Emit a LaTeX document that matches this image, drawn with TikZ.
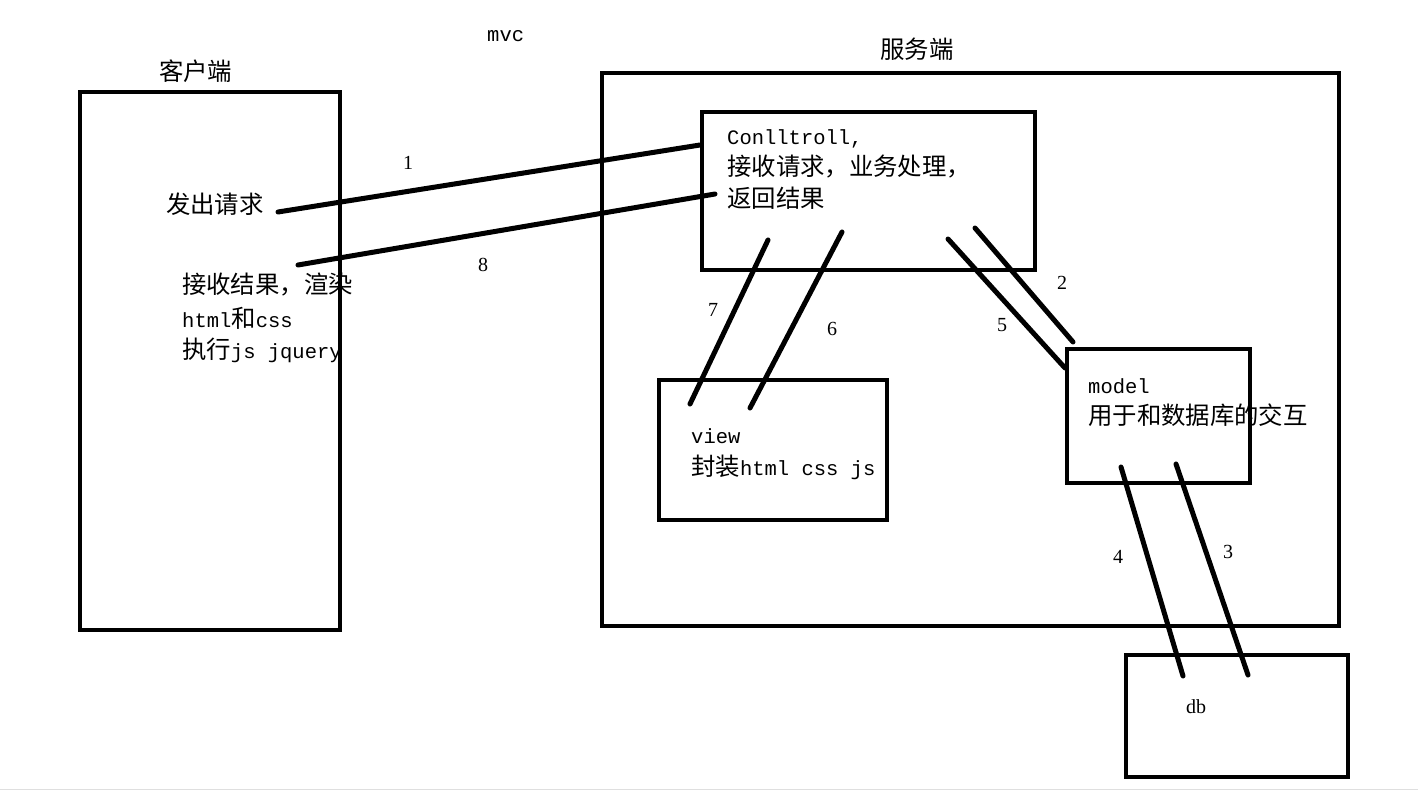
\documentclass[tikz,border=0pt]{standalone}
\usepackage{fontspec}
\setmainfont{Liberation Mono}
\newfontfamily\cjk[Scale=1.19]{Noto Sans CJK SC}
\newfontfamily\numfont{Liberation Serif}
\tikzset{
  box/.style={draw, line width=4.5pt, inner sep=0},
  conn/.style={line width=5pt, line cap=round},
  txt/.style={anchor=base west, inner sep=0, font=\fontsize{20.5}{24}\selectfont},
  num/.style={anchor=base, inner sep=0, font=\numfont\fontsize{20}{24}\selectfont},
}
\begin{document}
\begin{tikzpicture}[x=1pt,y=-1pt]
\useasboundingbox (0,0) rectangle (1418,791);
\draw[gray!25, line width=1pt] (0,789) -- (1418,789);
% boxes
\draw[box] (80,92) rectangle (340,630);
\draw[box] (602,73) rectangle (1339,626);
\draw[box] (702,112) rectangle (1035,270);
\draw[box] (659,380) rectangle (887,520);
\draw[box] (1067,349) rectangle (1250,483);
\draw[box] (1126,655) rectangle (1348,777);
% titles
\node[txt] (mvc) at (487,42) {mvc};
\node[txt] (client) at (159,81) {\cjk 客户端};
\node[txt] (server) at (880,59) {\cjk 服务端};
% client texts
\node[txt] (send) at (166,214) {\cjk 发出请求};
\node[txt] (recv1) at (182,294) {\cjk 接收结果，渲染};
\node[txt] (recv2) at (182,327) {html{\cjk 和}css};
\node[txt] (recv3) at (182,358) {{\cjk 执行}js jquery};
% controller
\node[txt] (c1) at (727,145) {Conlltroll,};
\node[txt] (c2) at (727,176) {\cjk 接收请求，业务处理，};
\node[txt] (c3) at (727,208) {\cjk 返回结果};
% view
\node[txt] (v1) at (691,443) {view};
\node[txt] (v2) at (691,475) {{\cjk 封装}html css js};
% model
\node[txt] (m1) at (1088,393) {model};
\node[txt] (m2) at (1088,424) {\cjk 用于和数据库的交互};
% db
\node[num] (db) at (1196,713) {db};
% connector end points
\coordinate (p1a) at (278,212); \coordinate (p1b) at (700,145);
\coordinate (p8a) at (298,265); \coordinate (p8b) at (715,194);
\coordinate (p7a) at (768,240); \coordinate (p7b) at (690,404);
\coordinate (p6a) at (842,232); \coordinate (p6b) at (750,408);
\coordinate (p5a) at (948,239); \coordinate (p5b) at (1065,368);
\coordinate (p2a) at (975,228); \coordinate (p2b) at (1073,342);
\coordinate (p4a) at (1121,467); \coordinate (p4b) at (1183,676);
\coordinate (p3a) at (1176,464); \coordinate (p3b) at (1248,675);
\draw[conn] (p1a) -- (p1b);
\draw[conn] (p8a) -- (p8b);
\draw[conn] (p7a) -- (p7b);
\draw[conn] (p6a) -- (p6b);
\draw[conn] (p5a) -- (p5b);
\draw[conn] (p2a) -- (p2b);
\draw[conn] (p4a) -- (p4b);
\draw[conn] (p3a) -- (p3b);
% numbers
\node[num] (n1) at (408,170) {1};
\node[num] (n8) at (483,272) {8};
\node[num] (n7) at (713,317) {7};
\node[num] (n6) at (832,335) {6};
\node[num] (n5) at (1002,332) {5};
\node[num] (n2) at (1062,290) {2};
\node[num] (n4) at (1118,563) {4};
\node[num] (n3) at (1228,558) {3};
\end{tikzpicture}
\end{document}
